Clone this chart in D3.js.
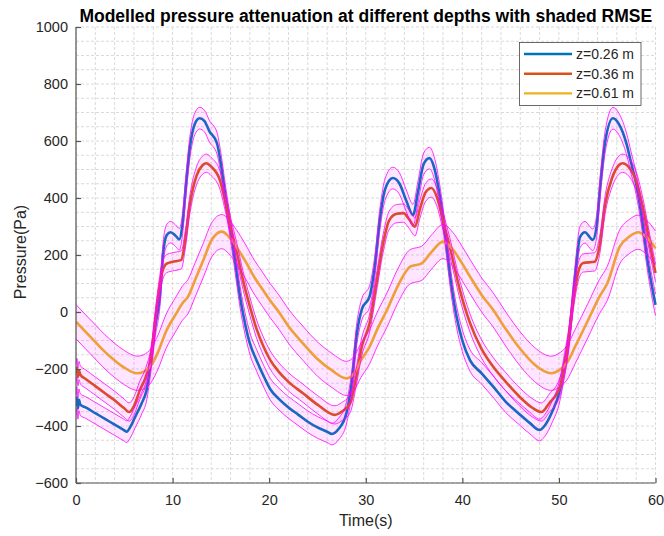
<!DOCTYPE html>
<html>
<head>
<meta charset="utf-8">
<script src="https://cdn.jsdelivr.net/npm/d3@7"></script>
<style>
  html, body { margin: 0; padding: 0; background: #fff; }
  svg { display: block; font-family: "Liberation Sans", Arial, sans-serif; }
</style>
</head>
<body>
<svg id="chart" width="664" height="536"></svg>
<script>
// ---------------- DATA ----------------
const chartTitle = "Modelled pressure attenuation at different depths with shaded RMSE";
const xLabel = "Time(s)";
const yLabel = "Pressure(Pa)";
const xTicks = [0, 10, 20, 30, 40, 50, 60];
const yTicks = [-600, -400, -200, 0, 200, 400, 600, 800, 1000];
const seriesNames = ["z=0.26 m", "z=0.36 m", "z=0.61 m"];
const seriesRmse = [38, 32, 60];

// [time (s), pressure (Pa)]
const pressureZ026 = [
  [0,-330],[0.1,-300],[0.2,-338],[0.3,-308],[0.45,-325],[1,-335],[2,-355],[3,-375],[4,-395],[5,-415],[5.25,-420],
  [5.6,-405],[6.1,-370],[6.8,-320],[7.3,-275],[7.8,-160],[8.2,-50],[8.7,60],[9.0,200],[9.4,270],[9.8,280],
  [10.3,268],[10.7,255],[11.0,300],[11.4,450],[11.8,580],[12.3,660],[12.8,680],[13.3,670],[13.8,635],
  [14.6,592],[15.0,520],[15.5,400],[16.0,290],[16.5,170],[17.0,50],[17.5,-40],[18.0,-110],[18.7,-170],
  [19.5,-230],[20.1,-270],[21,-305],[22,-335],[23,-360],[24,-385],[25,-405],[26,-420],[26.5,-428],
  [27.2,-410],[28,-355],[28.5,-260],[29.1,-70],[29.6,10],[30.4,55],[30.9,150],[31.5,335],[32.0,430],
  [32.8,470],[33.5,450],[34.2,390],[34.9,340],[35.4,420],[36.0,520],[36.6,540],[37.1,505],[37.7,400],
  [38.3,250],[38.8,110],[39.4,-16],[40.0,-100],[40.8,-170],[42,-215],[43.2,-262],[44.5,-315],[45.8,-355],
  [47,-390],[48,-414],[48.5,-400],[49.3,-350],[50.1,-274],[50.6,-180],[51.1,-74],[51.6,100],[52.2,264],
  [52.7,280],[53.2,262],[53.5,253],[53.9,300],[54.3,450],[54.8,600],[55.6,680],[56.2,660],[57.0,590],
  [57.5,520],[58,450],[58.5,350],[59.2,175],[60,25]
];
const pressureZ036 = [
  [0,-215],[0.1,-195],[0.2,-228],[0.3,-205],[0.45,-220],[1,-235],[2,-260],[3,-285],[4,-310],[5,-338],[5.5,-351],
  [6.0,-330],[6.6,-275],[7.2,-230],[7.8,-150],[8.3,0],[8.9,137],[9.4,170],[10.0,176],[10.9,183],[11.3,250],
  [11.8,380],[12.5,480],[13.1,515],[13.5,522],[14.0,510],[14.9,463],[15.5,380],[16.0,300],[16.6,217],
  [17.3,110],[18,20],[18.7,-60],[19.4,-120],[20.1,-168],[21,-210],[22,-245],[23.5,-285],[25,-325],
  [26.8,-361],[27.5,-350],[28.4,-320],[29.0,-230],[29.6,-120],[30.4,-39],[31.1,100],[31.8,241],[32.4,320],
  [33.2,345],[33.9,347],[34.5,325],[35.1,299],[35.6,360],[36.2,420],[36.8,435],[37.4,400],[38.0,320],
  [38.7,229],[39.75,77],[40.8,-39],[42,-130],[43.2,-192],[44.5,-245],[46,-300],[47.2,-335],[48.2,-351],
  [49.0,-320],[50.1,-263],[50.8,-150],[51.5,42],[52.0,140],[52.5,172],[53.7,176],[54.2,230],[54.8,380],
  [55.5,470],[56.2,515],[56.6,522],[57.2,510],[58,460],[58.8,350],[59.4,240],[60,137]
];
const pressureZ061 = [
  [0,-34],[1,-70],[2,-105],[3,-140],[4,-170],[5,-195],[6.3,-215],[7.0,-210],[7.8,-186],[8.5,-140],
  [9.3,-70],[10.4,-4],[11.0,30],[11.6,54],[12.3,110],[13.2,183],[14.0,250],[15.1,282],[15.8,265],
  [16.6,229],[17.5,180],[18.5,120],[19.3,80],[20.1,40],[21,0],[22,-50],[23.5,-110],[25,-165],[26.5,-205],
  [28,-233],[28.8,-215],[29.5,-170],[30.4,-122],[31.2,-60],[32.2,7],[33.3,90],[34.6,159],[35.8,171],
  [36.8,210],[38,247],[39,220],[39.75,183],[40.8,124],[42,60],[43.2,7],[44.5,-60],[46,-130],[47.5,-185],
  [49.2,-215],[50,-205],[50.8,-180],[51.7,-120],[53,-30],[54.2,54],[55,100],[56.3,229],[57.3,265],
  [58.2,280],[59,265],[60,224]
];
const seriesData = [pressureZ026, pressureZ036, pressureZ061];
const seriesColors = ["#0072BD", "#D95319", "#EDB120"];

// ---------------- LAYOUT ----------------
const svg = d3.select("#chart");
const mLeft = 76, mRight = 655.5, mTop = 27, mBottom = 483;
const x = d3.scaleLinear().domain([0, 60]).range([mLeft, mRight]);
const y = d3.scaleLinear().domain([-600, 1000]).range([mBottom, mTop]);

// grid (major + minor, dashed)
const grid = svg.append("g");
grid.selectAll("line.vg").data(d3.range(0, 60.01, 2)).enter().append("line")
  .attr("x1", d => x(d)).attr("x2", d => x(d)).attr("y1", mTop).attr("y2", mBottom)
  .attr("stroke", "#dadada").attr("stroke-width", 1).attr("stroke-dasharray", "3,2");
grid.selectAll("line.hg").data(d3.range(-600, 1000.01, 50)).enter().append("line")
  .attr("x1", mLeft).attr("x2", mRight).attr("y1", d => y(d)).attr("y2", d => y(d))
  .attr("stroke", "#dadada").attr("stroke-width", 1).attr("stroke-dasharray", "3,2");

svg.append("clipPath").attr("id", "clip").append("rect")
  .attr("x", mLeft).attr("y", mTop).attr("width", mRight - mLeft + 4).attr("height", mBottom - mTop);

const plot = svg.append("g").attr("clip-path", "url(#clip)");
const line = d3.line().x(d => x(d[0])).y(d => y(d[1])).curve(d3.curveMonotoneX);

// main lines
seriesData.forEach((s, i) => {
  plot.append("path").datum(s).attr("d", line)
    .attr("fill", "none").attr("stroke", seriesColors[i]).attr("stroke-width", 2.6)
    .attr("stroke-linejoin", "round");
});

// RMSE bands on top (transparent fill with magenta edges)
seriesData.forEach((s, i) => {
  const r = seriesRmse[i];
  const area = d3.area().x(d => x(d[0])).y0(d => y(d[1] - r)).y1(d => y(d[1] + r)).curve(d3.curveMonotoneX);
  plot.append("path").datum(s).attr("d", area)
    .attr("fill", "#ff00ff").attr("fill-opacity", 0.1).attr("stroke", "none");
  [r, -r].forEach(off => {
    const edge = d3.line().x(d => x(d[0])).y(d => y(d[1] + off)).curve(d3.curveMonotoneX);
    plot.append("path").datum(s).attr("d", edge)
      .attr("fill", "none").attr("stroke", "#ff00ff").attr("stroke-width", 0.8);
  });
});

// axes
const axisColor = "#262626";
const xAxis = svg.append("g").attr("transform", `translate(0,${mBottom})`)
  .call(d3.axisBottom(x).tickValues(xTicks).tickSize(-5).tickPadding(12).tickFormat(d3.format("d")));
const yAxis = svg.append("g").attr("transform", `translate(${mLeft},0)`)
  .call(d3.axisLeft(y).tickValues(yTicks).tickSize(-5).tickPadding(8).tickFormat(d3.format("d")));
[xAxis, yAxis].forEach(a => {
  a.select(".domain").attr("stroke", "#555").attr("stroke-width", 1.2);
  a.selectAll(".tick line").attr("stroke", "#555").attr("stroke-width", 1.2);
  a.selectAll(".tick text").attr("fill", axisColor).style("font-size", "14.5px")
    .style("font-family", "'Liberation Sans', Arial, sans-serif");
});
xAxis.select(".domain").attr("d", `M${mLeft},0H${mRight}`);
yAxis.select(".domain").attr("d", `M0,${mBottom}V${mTop}`);

// axis labels
svg.append("text").attr("x", (mLeft + mRight) / 2).attr("y", 526).attr("text-anchor", "middle")
  .attr("fill", axisColor).style("font-size", "16px").text(xLabel);
svg.append("text").attr("transform", `translate(26,${(mTop + mBottom) / 2 - 3}) rotate(-90)`)
  .attr("text-anchor", "middle").attr("fill", axisColor).style("font-size", "16px").text(yLabel);

// title
svg.append("text").attr("x", (mLeft + mRight) / 2).attr("y", 22).attr("text-anchor", "middle")
  .attr("fill", "#000").style("font-size", "17.5px").style("font-weight", "bold").text(chartTitle);

// legend
const lg = svg.append("g");
lg.append("rect").attr("x", 519.5).attr("y", 42.5).attr("width", 121.5).attr("height", 63)
  .attr("fill", "#fff").attr("stroke", "#444").attr("stroke-width", 0.8);
seriesNames.forEach((n, i) => {
  const yy = 54 + i * 19.7;
  lg.append("line").attr("x1", 524).attr("x2", 572).attr("y1", yy).attr("y2", yy)
    .attr("stroke", seriesColors[i]).attr("stroke-width", 2.4);
  lg.append("text").attr("x", 576).attr("y", yy + 5).attr("fill", axisColor)
    .style("font-size", "14px").text(n);
});
</script>
</body>
</html>
